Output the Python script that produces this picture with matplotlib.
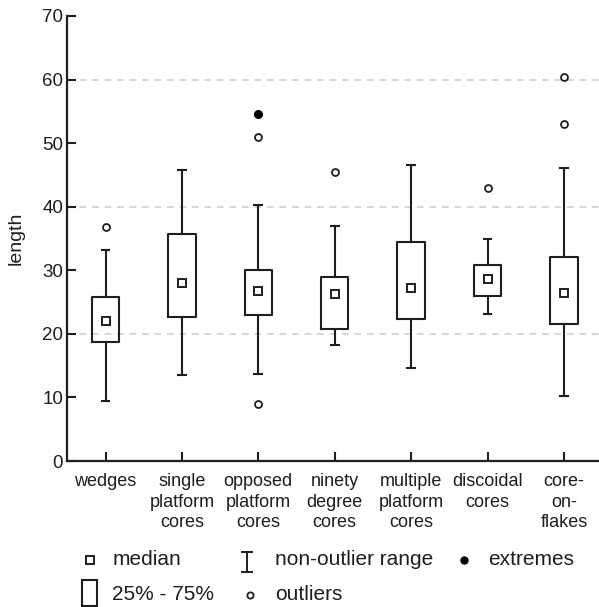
import matplotlib
matplotlib.use("Agg")
import matplotlib.pyplot as plt
from matplotlib.lines import Line2D
from matplotlib.patches import Rectangle

plt.rcParams['font.family'] = ['Liberation Sans', 'DejaVu Sans']

categories = ["wedges", "single\nplatform\ncores", "opposed\nplatform\ncores",
              "ninety\ndegree\ncores", "multiple\nplatform\ncores",
              "discoidal\ncores", "core-\non-\nflakes"]
medians = [22.1, 28.0, 26.7, 26.3, 27.2, 28.6, 26.4]
q1 = [18.7, 22.7, 23.0, 20.8, 22.3, 26.0, 21.6]
q3 = [25.8, 35.7, 30.1, 28.9, 34.4, 30.9, 32.1]
whis_lo = [9.4, 13.6, 13.7, 18.3, 14.7, 23.1, 10.2]
whis_hi = [33.2, 45.8, 40.2, 36.9, 46.6, 34.9, 46.1]
outliers = [[36.8], [], [51.0, 8.9], [45.4], [], [42.9], [60.4, 53.0]]
extremes = [[], [], [54.6], [], [], [], []]
yticks = [0, 10, 20, 30, 40, 50, 60, 70]
grid_vals = [20, 40, 60]

W, H = 599, 607
DPI = 100
fig = plt.figure(figsize=(W / DPI, H / DPI), dpi=DPI)
ax = fig.add_axes([67.3 / W, 1 - 461 / H, 1 - 67.3 / W, (461 - 16) / H])

ink = '#1e1e1e'
lw = 1.5

positions = list(range(1, len(categories) + 1))
stats = []
for i in range(len(categories)):
    stats.append(dict(med=medians[i], q1=q1[i], q3=q3[i],
                      whislo=whis_lo[i], whishi=whis_hi[i], fliers=[]))

ax.bxp(stats, positions=positions, widths=0.36, capwidths=0.1,
       showfliers=False, patch_artist=False,
       boxprops=dict(color=ink, linewidth=lw),
       whiskerprops=dict(color=ink, linewidth=lw),
       capprops=dict(color=ink, linewidth=lw),
       medianprops=dict(visible=False))

ax.plot(positions, medians, linestyle='none', marker='s', markersize=5.5,
        markerfacecolor='white', markeredgecolor=ink, markeredgewidth=1.4, zorder=5)

for p, vals in zip(positions, outliers):
    if vals:
        ax.plot([p] * len(vals), vals, linestyle='none', marker='o', markersize=5,
                markerfacecolor='white', markeredgecolor=ink, markeredgewidth=1.3, zorder=5)
for p, vals in zip(positions, extremes):
    if vals:
        ax.plot([p] * len(vals), vals, linestyle='none', marker='o', markersize=5.5,
                markerfacecolor='black', markeredgecolor='black', zorder=5)

for g in grid_vals:
    ax.axhline(g, color='#cfcfcf', linewidth=1.2, linestyle=(0, (4, 3.5)), zorder=0)

ax.set_xlim(0.5, 0.5 + (W - 67.3) / 76.4)
ax.set_ylim(0, 70)
ax.set_yticks(yticks)
ax.set_yticklabels([str(v) for v in yticks])
ax.set_xticks(positions)
ax.set_xticklabels(categories, linespacing=1.27)

for s in ['top', 'right']:
    ax.spines[s].set_visible(False)
for s in ['left', 'bottom']:
    ax.spines[s].set_linewidth(1.6)
    ax.spines[s].set_color(ink)

ax.tick_params(axis='both', direction='in', length=6.5, width=1.5, color=ink,
               labelcolor=ink)
ax.tick_params(axis='y', labelsize=13.5, pad=3)
ax.tick_params(axis='x', labelsize=13, pad=8.8)

ax.set_ylabel('length', fontsize=14, color=ink)
ax.yaxis.set_label_coords(-0.08, 0.5)

# legend (figure pixel coordinates)
def fx(x):
    return x / W

def fy(y):
    return 1 - y / H

tr = fig.transFigure
fs = 15
fig.add_artist(Line2D([fx(90)], [fy(559.5)], transform=tr, linestyle='none', marker='s',
                      markersize=5.8, markerfacecolor='white', markeredgecolor=ink,
                      markeredgewidth=1.4))
fig.text(fx(112.5), fy(559.5), 'median', fontsize=fs, color=ink, va='center', ha='left')

fig.add_artist(Line2D([fx(246.5), fx(246.5)], [fy(552), fy(572)], transform=tr, color=ink, linewidth=1.4))
fig.add_artist(Line2D([fx(241.5), fx(251.5)], [fy(552), fy(552)], transform=tr, color=ink, linewidth=1.4))
fig.add_artist(Line2D([fx(241.5), fx(251.5)], [fy(572), fy(572)], transform=tr, color=ink, linewidth=1.4))
fig.text(fx(275), fy(559.5), 'non-outlier range', fontsize=fs, color=ink, va='center', ha='left')

fig.add_artist(Line2D([fx(463.5)], [fy(560)], transform=tr, linestyle='none', marker='o',
                      markersize=5, markerfacecolor='black', markeredgecolor='black'))
fig.text(fx(488), fy(559.5), 'extremes', fontsize=fs, color=ink, va='center', ha='left')

fig.add_artist(Rectangle((fx(81.7), fy(606)), (97.3 - 81.7) / W, 26 / H, transform=tr,
                         fill=False, edgecolor=ink, linewidth=1.5))
fig.text(fx(112.5), fy(594), '25% - 75%', fontsize=fs, color=ink, va='center', ha='left')

fig.add_artist(Line2D([fx(250)], [fy(595)], transform=tr, linestyle='none', marker='o',
                      markersize=4.5, markerfacecolor='white', markeredgecolor=ink,
                      markeredgewidth=1.3))
fig.text(fx(275), fy(594), 'outliers', fontsize=fs, color=ink, va='center', ha='left')

fig.savefig('out.png', dpi=DPI)
